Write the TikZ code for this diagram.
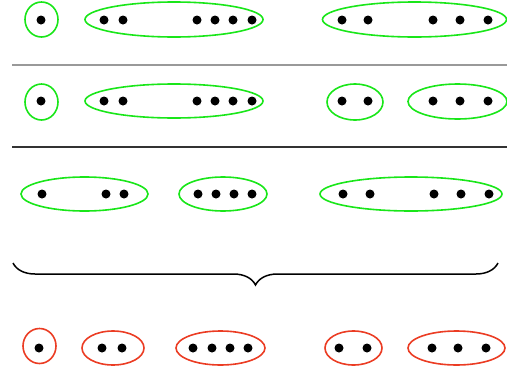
\documentclass[tikz,border=0pt]{standalone}
\usepackage{tikz}
\usetikzlibrary{shapes.geometric}
\usetikzlibrary{decorations.pathreplacing}
\definecolor{grpgreen}{RGB}{25,230,25}
\definecolor{grpred}{RGB}{235,60,35}

\begin{document}
\begin{tikzpicture}[x=1pt,y=-1pt]
    \tikzset{vertex/.style={circle, minimum size=9pt, fill=black, inner sep=0pt}};
    \tikzset{part/.style 2 args={ellipse, draw=grpgreen, line width=1.6pt, inner sep=0pt, minimum width=#1, minimum height=#2}};
    \tikzset{block/.style 2 args={ellipse, draw=grpred, line width=1.6pt, inner sep=0pt, minimum width=#1, minimum height=#2}};
\useasboundingbox (0,0) rectangle (507,370);
%% row 1
\node (a1) at (41,20) [vertex] {};
  \node (a2) at (104,20) [vertex] {};
  \node (a3) at (123,20) [vertex] {};
  \node (a4) at (197,20) [vertex] {};
  \node (a5) at (215,20) [vertex] {};
  \node (a6) at (233,20) [vertex] {};
  \node (a7) at (252,20) [vertex] {};
  \node (a8) at (342,20) [vertex] {};
  \node (a9) at (368,20) [vertex] {};
  \node (a10) at (433,20) [vertex] {};
  \node (a11) at (460,20) [vertex] {};
  \node (a12) at (488,20) [vertex] {};
  \node (ga1) at (41.5,19.5) [part={33pt}{35pt}] {};
  \node (ga2) at (174,19.5) [part={178pt}{35pt}] {};
  \node (ga3) at (414.5,19.5) [part={184pt}{35pt}] {};
%% row 2
\node (b1) at (41,101) [vertex] {};
  \node (b2) at (104,101) [vertex] {};
  \node (b3) at (123,101) [vertex] {};
  \node (b4) at (197,101) [vertex] {};
  \node (b5) at (215,101) [vertex] {};
  \node (b6) at (233,101) [vertex] {};
  \node (b7) at (252,101) [vertex] {};
  \node (b8) at (342,101) [vertex] {};
  \node (b9) at (368,101) [vertex] {};
  \node (b10) at (433,101) [vertex] {};
  \node (b11) at (460,101) [vertex] {};
  \node (b12) at (488,101) [vertex] {};
  \node (gb1) at (41.5,102) [part={33pt}{36pt}] {};
  \node (gb2) at (174,101) [part={178pt}{34pt}] {};
  \node (gb3) at (355,102) [part={56pt}{36pt}] {};
  \node (gb4) at (457.5,101.5) [part={99pt}{35pt}] {};
%% row 3
\node (c1) at (42,194) [vertex] {};
  \node (c2) at (106,194) [vertex] {};
  \node (c3) at (124,194) [vertex] {};
  \node (c4) at (198,194) [vertex] {};
  \node (c5) at (216,194) [vertex] {};
  \node (c6) at (234,194) [vertex] {};
  \node (c7) at (252,194) [vertex] {};
  \node (c8) at (343,194) [vertex] {};
  \node (c9) at (370,194) [vertex] {};
  \node (c10) at (434,194) [vertex] {};
  \node (c11) at (461,194) [vertex] {};
  \node (c12) at (489,194) [vertex] {};
  \node (gc1) at (84.5,194) [part={127pt}{34pt}] {};
  \node (gc2) at (223,194) [part={88pt}{34pt}] {};
  \node (gc3) at (411,194) [part={182pt}{34pt}] {};
%% row 4
\node (d1) at (39,348) [vertex] {};
  \node (d2) at (102,348) [vertex] {};
  \node (d3) at (122,348) [vertex] {};
  \node (d4) at (193,348) [vertex] {};
  \node (d5) at (212,348) [vertex] {};
  \node (d6) at (230,348) [vertex] {};
  \node (d7) at (248,348) [vertex] {};
  \node (d8) at (339,348) [vertex] {};
  \node (d9) at (367,348) [vertex] {};
  \node (d10) at (432,348) [vertex] {};
  \node (d11) at (458,348) [vertex] {};
  \node (d12) at (486,348) [vertex] {};
  \node (gd1) at (39.5,346) [block={33pt}{35pt}] {};
  \node (gd2) at (113,348) [block={62pt}{34pt}] {};
  \node (gd3) at (220.5,348) [block={89pt}{34pt}] {};
  \node (gd4) at (353.5,348) [block={57pt}{34pt}] {};
  \node (gd5) at (456.5,348) [block={97pt}{34pt}] {};

  \coordinate (s1) at (12,65);
  \coordinate (t1) at (507,65);
  \coordinate (s2) at (12,147);
  \coordinate (t2) at (507,147);
  \coordinate (br1) at (498,263);
  \coordinate (br2) at (13,263);

  \draw [line width=2.2pt, black!40] (s1) -- (t1);
  \draw [line width=1.5pt, black!80] (s2) -- (t2);
  \draw [line width=1.5pt, decorate, decoration={brace, amplitude=22pt}] (br1) -- (br2);
  %
\end{tikzpicture}
\end{document}
